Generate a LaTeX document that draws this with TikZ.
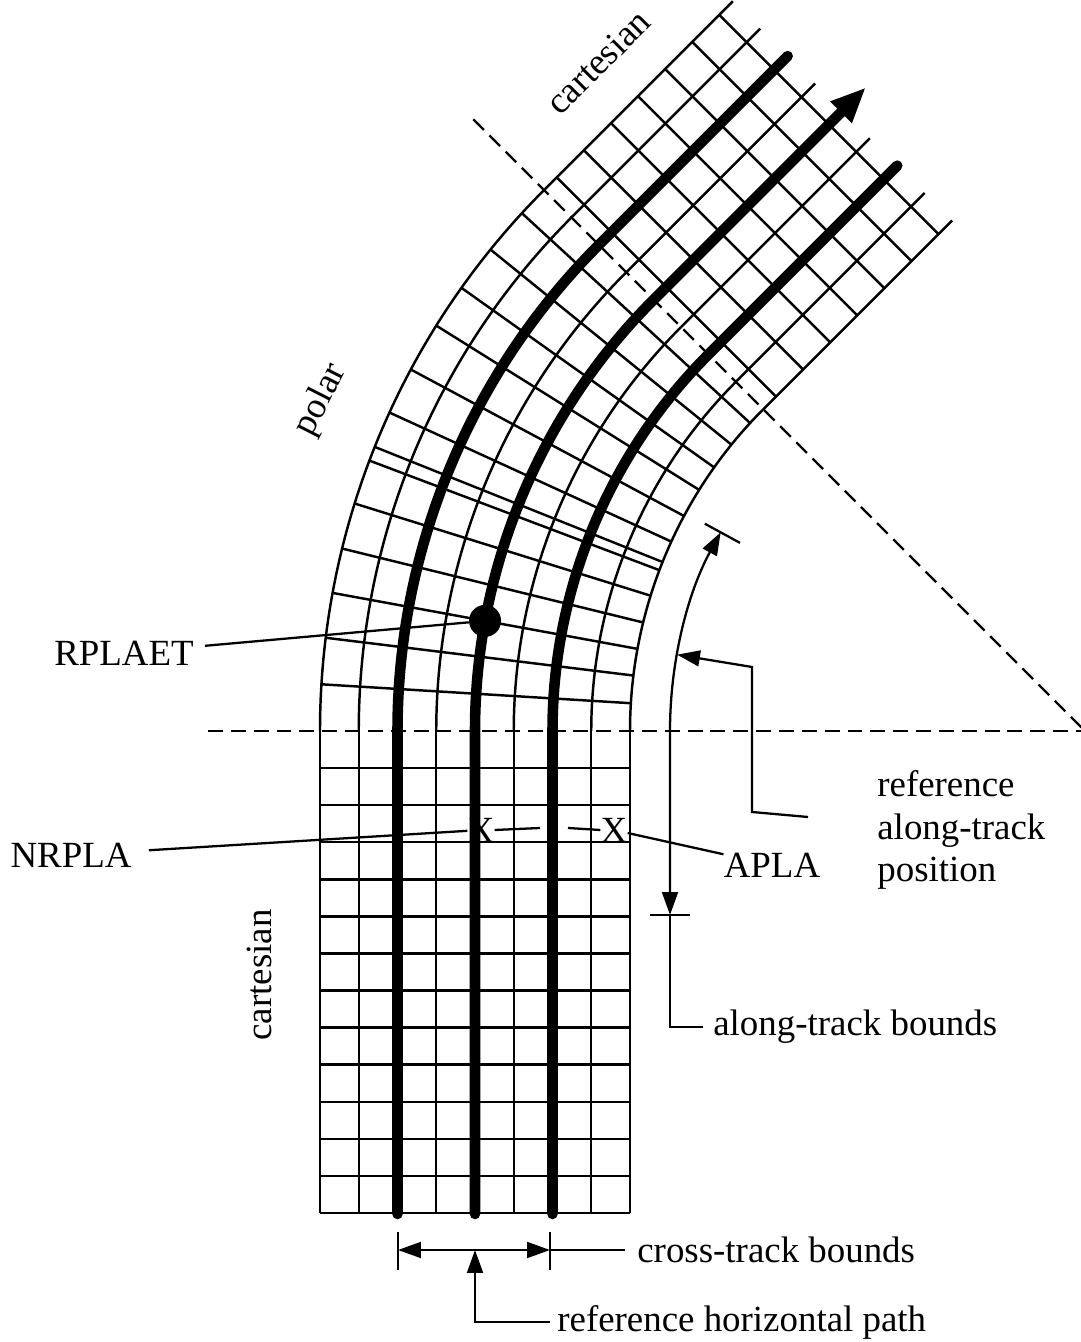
\documentclass[tikz,border=0pt]{standalone}
\usepackage{fontspec}
\setmainfont{Liberation Serif}
\usetikzlibrary{arrows.meta, calc}

\tikzset{
  gridline/.style={line width=1.4pt},
  track/.style={line width=6pt, line cap=round},
  bound/.style={line width=1.3pt, dash pattern=on 8.5pt off 4.5pt},
  dimline/.style={line width=1.3pt},
  lbl/.style={font=\fontsize{21}{24}\selectfont, inner sep=0pt},
  tri/.tip={Triangle[length=13pt,width=9pt]}
}

\begin{document}
\begin{tikzpicture}[x=0.02cm, y=0.02cm]
\useasboundingbox (0,0) rectangle (1081,1342);
\coordinate (C) at (1085,611);

% Lower cartesian grid
\foreach \k in {0,...,8}
    \draw[gridline] ({630-38.75*\k},611) -- ({630-38.75*\k},129);
\foreach \k in {1,...,13}
    \draw[gridline] (320,{611-37.08*\k}) -- (630,{611-37.08*\k});

% Polar grid
\foreach \k in {0,...,8}
    \draw[gridline] ($(C)+(180:{455+38.75*\k})$) arc[start angle=180, end angle=135, radius={455+38.75*\k}];
\foreach \a in {176.5,173,169.6,166.2,162.7,159.3,158.2,155.4,151.8,148,144.6,141,137.4}
    \draw[gridline] ($(C)+(\a:455)$) -- ($(C)+(\a:765)$);

% Upper cartesian grid
\foreach \k in {0,...,8}
    \draw[gridline] ($(C)+(135:{455+38.75*\k})$) -- ++(45:267);
\foreach \j in {0,...,6}
    \draw[gridline] ($(C)+(135:455)+(45:{18+38.3*\j})$) -- ++(135:310);

% Boundaries
\draw[bound] (208,611) -- (C);
\draw[bound] ($(C)+(135:865)$) -- (C);

% X marks
\node[lbl] (xn) at (481,512) {X};
\node[lbl] (xa) at (614,512) {X};
\coordinate (gl) at (540,514);
\coordinate (gr) at (568,514);
\draw[dimline] (xn.east) -- (gl);
\draw[dimline] (gr) -- (xa.west);

% Tracks
\foreach \r in {532.5,687.5}
    \draw[track] ({1085-\r},128) -- ({1085-\r},611) arc[start angle=180, end angle=135, radius=\r] -- ++(45:267);
\draw[track, -{Triangle[length=20pt,width=16pt]}] (475,128) -- (475,611) arc[start angle=180, end angle=135, radius=610] -- ++(45:300);
\node[circle, fill, inner sep=0pt, minimum size=0.64cm] (dot) at ($(C)+(169.6:610)$) {};

% Region labels
\node[lbl, rotate=45] (cartup) at (598,1280) {cartesian};
\node[lbl, rotate=63] (polar) at (321,942) {polar};
\node[lbl, rotate=90] (cartlow) at (259,367) {cartesian};

% Point labels
\node[lbl, anchor=east] (rplaet) at (194,689) {RPLAET};
\draw[dimline, shorten <=0.22cm] (rplaet) -- (dot);
\node[lbl] (nrpla) at (71,487) {NRPLA};
\draw[dimline, shorten <=0.34cm] (nrpla) -- (xn);
\node[lbl] (apla) at (772,477) {APLA};
\draw[dimline] (apla) -- (xa);

% Along-track bounds
\coordinate (atlow) at (670,427);
\coordinate (atup) at ($(C)+(151.4:415)$);
\draw[dimline, tri-tri] (atlow) -- (670,611) arc[start angle=180, end angle=151.4, radius=415];
\draw[dimline] (650,427) -- (690,427);
\draw[dimline] ($(C)+(151.4:393)$) -- ($(C)+(151.4:433)$);
\node[lbl, anchor=west] (atb) at (713,315) {along-track bounds};
\draw[dimline, shorten >=0.2cm] (atlow) |- (atb.west);

% Reference along-track position
\node[lbl, anchor=west, align=left] (refpos) at (877,512) {reference\\along-track\\position};
\coordinate (rpfree) at (808,525);
\coordinate (atref) at ($(C)+(169.4:415)$);
\draw[dimline, -tri] (rpfree) -- (752,530) -- (752,675) -- (atref);

% Cross-track bounds
\coordinate (ctl) at (398,92);
\coordinate (ctr) at (550,92);
\draw[dimline] (398,110) -- (398,72);
\draw[dimline] (550,110) -- (550,72);
\draw[dimline, tri-tri] (ctl) -- (ctr);
\node[lbl, anchor=west] (ctb) at (637,92) {cross-track bounds};
\draw[dimline, shorten >=0.24cm] (ctr) -- (ctb.west);

% Reference horizontal path
\coordinate (rhpt) at (475,92);
\node[lbl, anchor=west] (rhp) at (557,20) {reference horizontal path};
\draw[dimline, -tri, shorten <=0.14cm] (rhp.west) -| (rhpt);
\end{tikzpicture}
\end{document}
